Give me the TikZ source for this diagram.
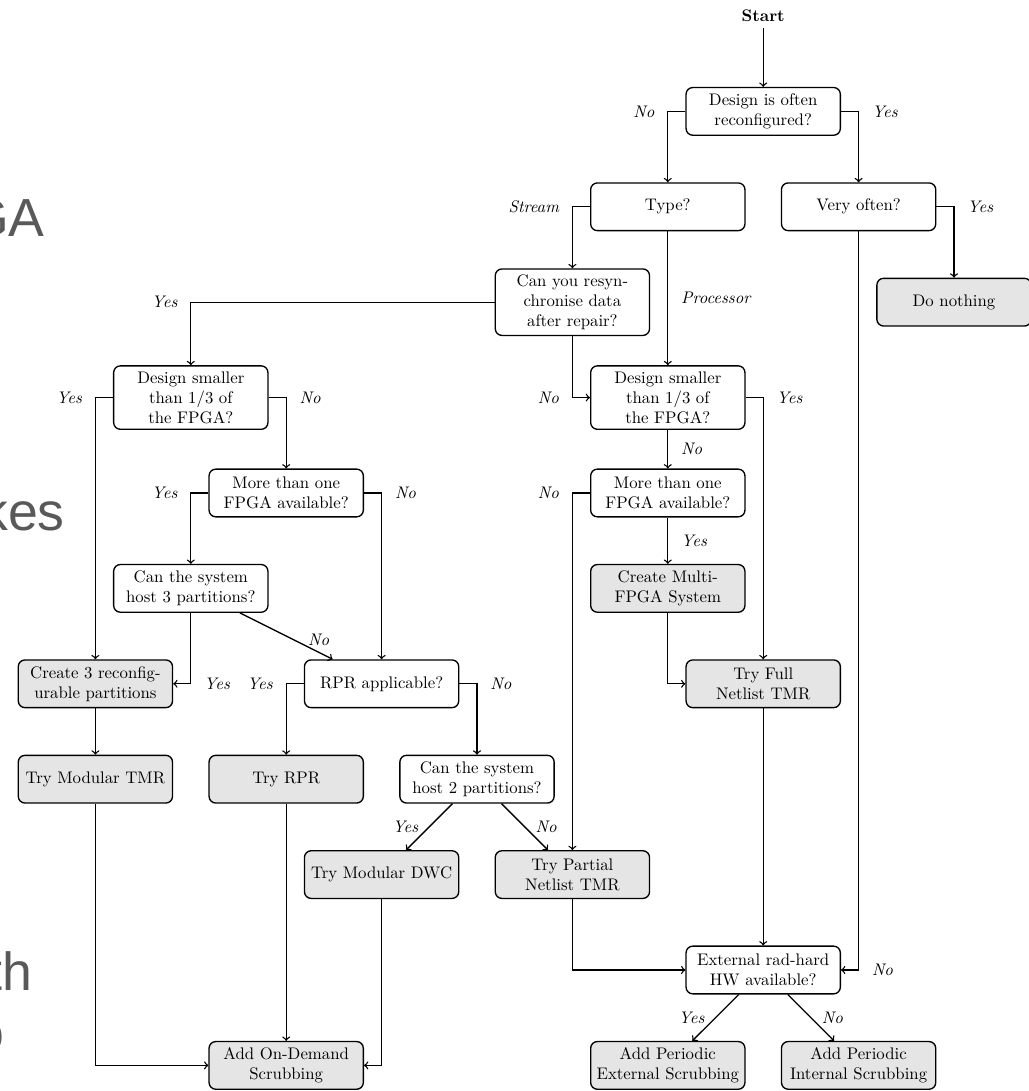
\documentclass[tikz,border=0pt]{standalone}
\usepackage{fontspec}
\usepackage{tikz}
\usetikzlibrary{
    shapes,
    positioning,
    arrows
}
\newfontfamily\slidefont{Liberation Sans}
\tikzset{
  basic/.style = {
      draw,
      thick,
      rectangle,
      rounded corners,
      text width=3cm,
      minimum height=1cm,
      align=center
  },
  decision/.style = {
      basic,
      fill=white
  },
  action/.style = {
      basic,
      fill=gray!20
  },
  plain/.style = {
      draw=none
  },
  answer/.style = {
      font=\itshape
  },
  flow/.style = {
      thick,
      ->
  },
  slide/.style = {
      font=\slidefont\fontsize{32}{38}\selectfont,
      text=black!65,
      inner sep=0pt,
      anchor=base east
  }
}

\begin{document}
\begin{tikzpicture}[node distance=2cm, on grid]
    \useasboundingbox (0,0.335) rectangle (21.572,-22.537);
    % Leftovers of the slide behind the chart
    \node[slide] (ga) at (0.944,-4.63) {GA};
    \node[slide] (kes) at (1.364,-10.79) {kes};
    \node[slide] (th) at (0.693,-20.44) {th};
    \node[slide] (o) at (0.105,-21.70) {o};
    % Nodes
    \node[plain] (start) at (16,0) {\textbf{Start}};
    \node[decision, below=of start] (often) {Design is often reconfigured?};
    \node[decision, below left=2cm and 2cm of often] (type) {Type?};
    \node[decision, below right=2cm and 2cm of often] (veryoften) {Very often?};
    \node[decision, below left=2cm and 2cm of type] (resync) {Can you resyn-\\chronise data\\after repair?};
    \node[action, below right=2cm and 2cm of veryoften] (nothing) {Do nothing};
    \node[decision, below=4cm of type] (smallR) {Design smaller\\than 1/3 of\\the FPGA?};
    \node[decision, below left=2cm and 8cm of resync] (smallL) {Design smaller\\than 1/3 of\\the FPGA?};
    \node[decision, below right=2cm and 2cm of smallL] (moreL) {More than one\\FPGA available?};
    \node[decision, below=of smallR] (moreR) {More than one\\FPGA available?};
    \node[decision, below left=2cm and 2cm of moreL] (host3) {Can the system\\host 3 partitions?};
    \node[action, below=of moreR] (multi) {Create Multi-\\FPGA System};
    \node[action, below left=2cm and 2cm of host3] (parts3) {Create 3 reconfig-\\urable partitions};
    \node[decision, below right=4cm and 2cm of moreL] (rpr) {RPR applicable?};
    \node[action, below right=2cm and 2cm of multi] (fulltmr) {Try Full\\Netlist TMR};
    \node[action, below=of parts3] (modtmr) {Try Modular TMR};
    \node[action, below left=2cm and 2cm of rpr] (tryrpr) {Try RPR};
    \node[decision, below right=2cm and 2cm of rpr] (host2) {Can the system\\host 2 partitions?};
    \node[action, below left=2cm and 2cm of host2] (dwc) {Try Modular DWC};
    \node[action, below right=2cm and 2cm of host2] (partial) {Try Partial\\Netlist TMR};
    \node[decision, below=6cm of fulltmr] (radhard) {External rad-hard\\HW available?};
    \node[action, below=6cm of tryrpr] (ondemand) {Add On-Demand\\Scrubbing};
    \node[action, below left=2cm and 2cm of radhard] (extscrub) {Add Periodic\\External Scrubbing};
    \node[action, below right=2cm and 2cm of radhard] (intscrub) {Add Periodic\\Internal Scrubbing};
    % Edges
    \draw[flow] (start) -- (often);
    \draw[flow] (often.west) -| node[pos=0.5, answer, left=1.5mm] {No} (type.north);
    \draw[flow] (often.east) -| node[pos=0.5, answer, right=1.5mm] {Yes} (veryoften.north);
    \draw[flow] (type.west) -| node[pos=0.5, answer, left=1.5mm] {Stream} (resync.north);
    \draw[flow] (type) -- node[midway, answer, right=1.5mm] {Processor} (smallR);
    \draw[flow] (veryoften.east) -| node[pos=0.5, answer, right=1.5mm] {Yes} (nothing.north);
    \draw[flow] (veryoften.south) |- node[pos=0.5, answer, right=1.5mm] {No} (radhard.east);
    \draw[flow] (resync.west) -| node[pos=0.5, answer, left=1.5mm] {Yes} (smallL.north);
    \draw[flow] (resync.south) |- node[pos=0.5, answer, left=1.5mm] {No} (smallR.west);
    \draw[flow] (smallL.west) -| node[pos=0.5, answer, left=1.5mm] {Yes} (parts3.north);
    \draw[flow] (smallL.east) -| node[pos=0.5, answer, right=1.5mm] {No} (moreL.north);
    \draw[flow] (moreL.west) -| node[pos=0.5, answer, left=1.5mm] {Yes} (host3.north);
    \draw[flow] (moreL.east) -| node[pos=0.5, answer, right=1.5mm] {No} (rpr.north);
    \draw[flow] (host3.south) |- node[pos=0.5, answer, right=1.5mm] {Yes} (parts3.east);
    \draw[flow] (host3) -- node[pos=0.85, answer, above] {No} (rpr);
    \draw[flow] (parts3) -- (modtmr);
    \draw[flow] (rpr.west) -| node[pos=0.5, answer, left=1.5mm] {Yes} (tryrpr.north);
    \draw[flow] (rpr.east) -| node[pos=0.5, answer, right=1.5mm] {No} (host2.north);
    \draw[flow] (host2) -- node[midway, answer, left=1mm] {Yes} (dwc);
    \draw[flow] (host2) -- node[midway, answer, right=1mm] {No} (partial);
    \draw[flow] (modtmr.south) |- (ondemand.west);
    \draw[flow] (tryrpr) -- (ondemand);
    \draw[flow] (dwc.south) |- (ondemand.east);
    \draw[flow] (smallR.east) -| node[pos=0.5, answer, right=1.5mm] {Yes} (fulltmr.north);
    \draw[flow] (smallR) -- node[midway, answer, right=1.5mm] {No} (moreR);
    \draw[flow] (moreR.west) -| node[pos=0.5, answer, left=1.5mm] {No} (partial.north);
    \draw[flow] (moreR) -- node[midway, answer, right=1.5mm] {Yes} (multi);
    \draw[flow] (multi.south) |- (fulltmr.west);
    \draw[flow] (fulltmr) -- (radhard);
    \draw[flow] (partial.south) |- (radhard.west);
    \draw[flow] (radhard) -- node[midway, answer, left=1mm] {Yes} (extscrub);
    \draw[flow] (radhard) -- node[midway, answer, right=1mm] {No} (intscrub);
\end{tikzpicture}
\end{document}
